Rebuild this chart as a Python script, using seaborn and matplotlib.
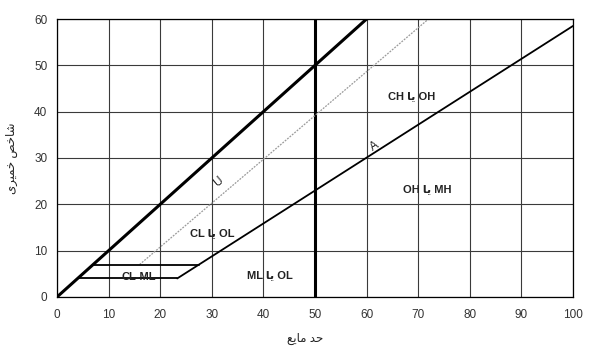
import numpy as np
import matplotlib
matplotlib.use("Agg")
import matplotlib.pyplot as plt
import seaborn as sns

# Plasticity chart (liquid limit vs plasticity index)
x_ticks = [0, 10, 20, 30, 40, 50, 60, 70, 80, 90, 100]
y_ticks = [0, 10, 20, 30, 40, 50, 60]

# upper bound line PI = LL
bound_ll = [0, 60]
bound_pi = [0, 60]

# vertical divider at LL = 50
div_ll = [50, 50]
div_pi = [0, 60]

# A-line
a_ll = [23.3, 100]
a_pi = [4, 58.5]

# U-line (thin, dotted)
u_ll = [16, 72]
u_pi = [7, 60]

# CL-ML band limits
band_pi = [4, 7]

# zone labels (visual order, Persian "or" in presentation forms)
ya = "\ufe8e\ufef3"
zone_labels = [
    ("CH " + ya + " OH", 68.8, 43.4),
    ("OH " + ya + " MH", 71.7, 23.3),
    ("CL " + ya + " OL", 30.0, 13.8),
    ("ML " + ya + " OL", 41.3, 4.7),
    ("CL-ML", 15.8, 4.3),
]

# axis titles, glyphs laid out left to right as displayed
x_label = "\ufeca\ufef3\ufe8e\ufee3 \ufeaa\ufea3"
y_label = "\ufeef\ufeae\ufef4\ufee4\ufea7 \ufeba\ufea7\ufe8e\ufeb7"

sns.set_theme(style="white")
fam = ["Liberation Sans", "DejaVu Sans"]
plt.rcParams["font.family"] = fam

fig = plt.figure(figsize=(6, 3.48), dpi=100)
ax = fig.add_axes([0.095, 0.1466, 0.86, 0.7988])

ax.set_xlim(0, 100)
ax.set_ylim(0, 60)
ax.set_xticks(x_ticks)
ax.set_yticks(y_ticks)
ax.grid(True, color="#3a3a3a", lw=0.8)
ax.set_axisbelow(True)
for s in ax.spines.values():
    s.set_color("black")
    s.set_linewidth(0.9)
ax.tick_params(axis="both", direction="out", length=3, width=0.8, color="black",
               labelsize=8.5, labelcolor="#333333", pad=4)
ax.tick_params(axis="x", pad=6)

# main lines
sns.lineplot(x=bound_ll, y=bound_pi, ax=ax, color="black", lw=2.2, estimator=None, sort=False)
sns.lineplot(x=div_ll, y=div_pi, ax=ax, color="black", lw=2.2, estimator=None, sort=False)
sns.lineplot(x=a_ll, y=a_pi, ax=ax, color="black", lw=1.3, estimator=None, sort=False)
sns.lineplot(x=u_ll, y=u_pi, ax=ax, color="#9a9a9a", lw=0.9, ls=(0, (1.5, 1)),
             estimator=None, sort=False)

# CL-ML band edges: from the PI = LL line to the A-line
for p in band_pi:
    right = float(np.interp(p, a_pi, a_ll))
    sns.lineplot(x=[p, right], y=[p, p], ax=ax, color="black", lw=1.3,
                 estimator=None, sort=False)

for txt, lx, ly in zone_labels:
    ax.text(lx, ly, txt, ha="center", va="center", fontsize=8, fontweight="bold",
            color="#222222", family=fam)

# line names along the lines
u_ang = np.degrees(np.arctan2(u_pi[1] - u_pi[0], u_ll[1] - u_ll[0]))
a_ang = np.degrees(np.arctan2(a_pi[1] - a_pi[0], a_ll[1] - a_ll[0]))
ax.text(31.2, 24.8, "U", ha="center", va="center", fontsize=8.5, color="#222222",
        rotation=u_ang, transform_rotates_text=True, rotation_mode="anchor")
ax.text(61.6, 32.6, "A", ha="center", va="center", fontsize=8.5, color="#222222",
        rotation=a_ang, transform_rotates_text=True, rotation_mode="anchor")

ax.set_xlabel(x_label, fontsize=8.5, color="#222222", family=fam)
ax.set_ylabel(y_label, fontsize=8.5, color="#222222", family=fam)
ax.xaxis.set_label_coords(0.48, -0.13)
ax.yaxis.set_label_coords(-0.075, 0.5)

fig.savefig("out.png", dpi=100)
